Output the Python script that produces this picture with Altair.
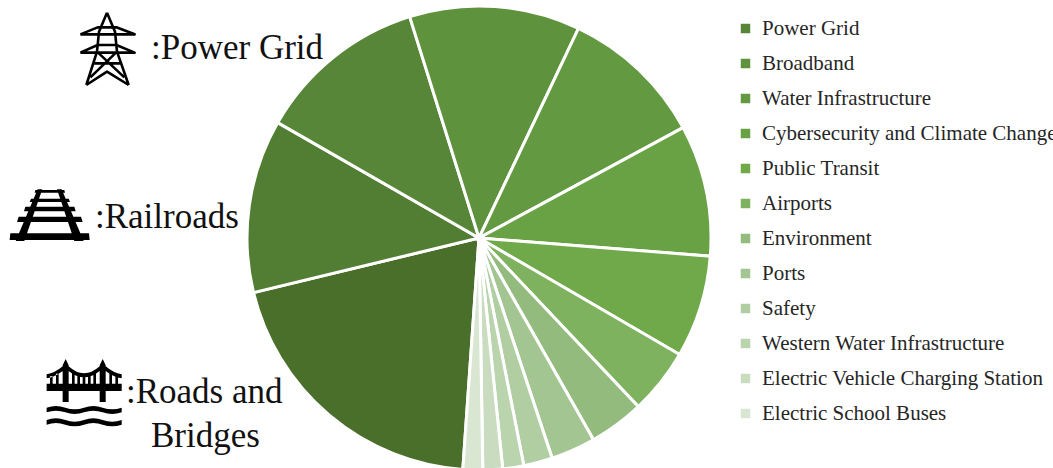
import math
import re

import altair as alt
import pandas as pd

# Infrastructure funding by category, in the order the slices run clockwise
categories = [
    "Roads and Bridges", "Railroads", "Power Grid", "Broadband",
    "Water Infrastructure", "Cybersecurity and Climate Change", "Public Transit",
    "Airports", "Environment", "Ports", "Safety", "Western Water Infrastructure",
    "Electric Vehicle Charging Station", "Electric School Buses",
]
values = [110, 66, 65, 65, 55, 50, 39, 25, 21, 17, 11, 8, 7.5, 7.5]
colors = [
    "#4a6f2b", "#527e33", "#588638", "#5e923d", "#639a41", "#69a245", "#6fa949",
    "#7eb25f", "#93bb7d", "#a3c592", "#b0cea2", "#bad4ae", "#cadcc0", "#d9e6d2",
]
# The two largest categories are named beside their icons instead of in the legend
legend_entries = categories[2:]

note_text = [":Power Grid", ":Railroads", ":Roads and", "Bridges"]
note_x = [151, 95, 126, 151]
note_y = [59, 228, 403, 447]

SERIF = "Liberation Serif"
START = math.radians(184)


def icon_path(d, cx, cy, r):
    """Rescale a path drawn in local units to the -1..1 box of a custom symbol."""
    pairs = re.compile(r"(-?\d+(?:\.\d+)?) (-?\d+(?:\.\d+)?)")
    return pairs.sub(
        lambda m: f"{(float(m[1]) - cx) / r:.4f} {(float(m[2]) - cy) / r:.4f}", d
    )


tower = (
    "M320 38 L296 95 L290 155 L258 255 M320 38 L344 95 L350 155 L385 255 "
    "M240 103 L292 82 L348 82 L403 103 L240 103 "
    "M240 158 L292 135 L348 135 L403 158 L240 158 "
    "M290 155 L372 232 M350 155 L270 232 M280 190 L360 190 "
    "M258 255 L320 215 L385 255"
)

rail_parts = [
    "M112 570 L126 570 L72 725 L46 725 Z", "M170 570 L184 570 L250 725 L222 725 Z",
    "M105 572 L192 572 L194 580 L103 580 Z", "M92 598 L205 598 L209 608 L88 608 Z",
    "M75 622 L222 622 L226 636 L71 636 Z", "M55 652 L242 652 L247 668 L50 668 Z",
    "M30 702 L266 702 L268 722 L28 722 Z",
]
railway = " ".join(rail_parts)

bridge_parts = [
    "M140 1150 L365 1150 L365 1172 L140 1172 Z",
    "M188 1095 L197 1076 L206 1095 L206 1205 L188 1205 Z",
    "M299 1095 L308 1076 L317 1095 L317 1205 L299 1205 Z",
    "M206 1098 Q252 1140 299 1098 L299 1112 Q252 1150 206 1112 Z",
    "M188 1098 Q165 1118 140 1122 L140 1134 Q165 1130 188 1112 Z",
    "M317 1098 Q340 1118 365 1122 L365 1134 Q340 1130 317 1112 Z",
    "M150 1128 L158 1128 L158 1150 L150 1150 Z", "M168 1120 L176 1120 L176 1150 L168 1150 Z",
    "M216 1112 L224 1112 L224 1150 L216 1150 Z", "M232 1124 L240 1124 L240 1150 L232 1150 Z",
    "M248 1130 L256 1130 L256 1150 L248 1150 Z", "M264 1124 L272 1124 L272 1150 L264 1150 Z",
    "M280 1112 L288 1112 L288 1150 L280 1150 Z", "M328 1120 L336 1120 L336 1150 L328 1150 Z",
    "M346 1128 L354 1128 L354 1150 L346 1150 Z",
    "M140 1222 Q168 1212 196 1222 Q224 1232 252 1222 Q280 1212 308 1222 Q336 1232 365 1222 "
    "L365 1236 Q336 1246 308 1236 Q280 1226 252 1236 Q224 1246 196 1236 Q168 1226 140 1236 Z",
    "M140 1259 Q168 1249 196 1259 Q224 1269 252 1259 Q280 1249 308 1259 Q336 1269 365 1259 "
    "L365 1273 Q336 1283 308 1273 Q280 1263 252 1273 Q224 1283 196 1273 Q168 1263 140 1273 Z",
]
bridge = " ".join(bridge_parts)

slices = pd.DataFrame({"category": categories, "value": values, "rank": range(len(values))})
notes = pd.DataFrame({"text": note_text, "x": note_x, "y": note_y})

pie = (
    alt.Chart(slices)
    .mark_arc(outerRadius=232, stroke="white", strokeWidth=3)
    .encode(
        theta=alt.Theta(
            "value:Q", stack=True, scale=alt.Scale(range=[START, START + 2 * math.pi])
        ),
        order=alt.Order("rank:Q"),
        color=alt.Color(
            "category:N",
            sort=categories,
            scale=alt.Scale(domain=categories, range=colors),
            legend=alt.Legend(
                values=legend_entries,
                title=None,
                orient="none",
                legendX=735,
                legendY=18,
                symbolType="square",
                symbolSize=90,
                symbolStrokeWidth=0,
                labelFont=SERIF,
                labelFontSize=21,
                labelColor="#262626",
                labelOffset=6,
                labelLimit=400,
                rowPadding=13,
                padding=0,
            ),
        ),
        x=alt.value(479),
        y=alt.value(238),
    )
)

labels = (
    alt.Chart(notes)
    .mark_text(font=SERIF, fontSize=35, align="left", baseline="alphabetic", color="#111111")
    .encode(
        x=alt.X("x:Q", scale=None),
        y=alt.Y("y:Q", scale=None),
        text="text:N",
    )
)


def icon(path, x, y, half, **style):
    return (
        alt.Chart(pd.DataFrame({"x": [x], "y": [y]}))
        .mark_point(shape=path, size=(2 * half) ** 2, opacity=1, **style)
        .encode(x=alt.X("x:Q", scale=None), y=alt.Y("y:Q", scale=None))
    )


tower_icon = icon(
    icon_path(tower, 320, 147, 111), 107, 49, 37,
    filled=False, stroke="black", strokeWidth=2.6, strokeJoin="round",
)
rail_icon = icon(
    icon_path(railway, 149, 650, 120), 50, 216, 40, filled=True, fill="black", strokeWidth=0
)
bridge_icon = icon(
    icon_path(bridge, 252, 1175, 113), 84, 392, 37.7, filled=True, fill="black", strokeWidth=0
)

chart = (
    alt.layer(pie, labels, tower_icon, rail_icon, bridge_icon)
    .properties(
        width=1053,
        height=468,
        padding=0,
        autosize=alt.AutoSizeParams(type="none", contains="padding"),
        background="white",
    )
    .configure_view(stroke=None)
)

chart.save("out.html", embed_options={"renderer": "svg", "actions": False})
